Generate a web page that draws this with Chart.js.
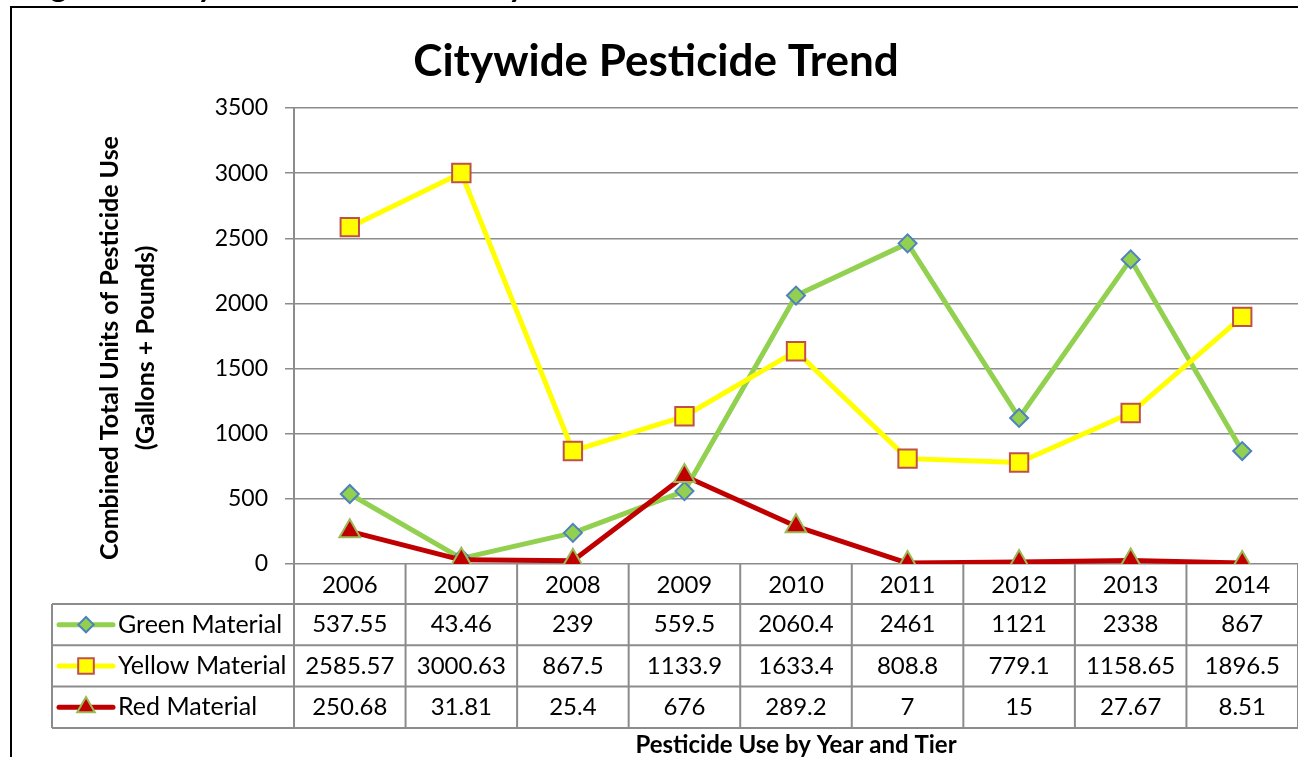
<!DOCTYPE html>
<html>
<head>
<meta charset="utf-8">
<script src="https://cdn.jsdelivr.net/npm/chart.js@4"></script>
<style>
  html, body { margin: 0; padding: 0; background: #fff; }
  #wrap { position: relative; width: 1298px; height: 757px; }
</style>
</head>
<body>
<div id="wrap"><canvas id="trend"></canvas></div>
<script>
const years = ["2006", "2007", "2008", "2009", "2010", "2011", "2012", "2013", "2014"];
const greenMaterial = [537.55, 43.46, 239, 559.5, 2060.4, 2461, 1121, 2338, 867];
const yellowMaterial = [2585.57, 3000.63, 867.5, 1133.9, 1633.4, 808.8, 779.1, 1158.65, 1896.5];
const redMaterial = [250.68, 31.81, 25.4, 676, 289.2, 7, 15, 27.67, 8.51];
const yTicks = { min: 0, max: 3500, step: 500 };

const FONT = "Lato, 'Open Sans', sans-serif";
const GRID = "#8c8c8c";

const series = [
  { label: "Green Material", data: greenMaterial, line: "#92D050", fill: "#92D050", edge: "#4F81BD", style: "rectRot", radius: 9 },
  { label: "Yellow Material", data: yellowMaterial, line: "#FFFF00", fill: "#FFFF00", edge: "#C0504D", style: "rect", radius: 13 },
  { label: "Red Material", data: redMaterial, line: "#C00000", fill: "#C00000", edge: "#9BBB59", style: "triangle", radius: 12 },
];

// draws frame, titles and the data table under the plot
const tablePlugin = {
  id: "dataTable",
  afterDraw(chart) {
    const ctx = chart.ctx;
    const xs = chart.scales.x;
    const area = chart.chartArea;
    const band = (xs.right - xs.left) / years.length;
    const top = area.bottom;
    const headBottom = top + 40;
    const rowH = 41.3;
    const bottom = headBottom + rowH * series.length;
    const tableLeft = 52;

    ctx.save();

    // outer frame and cut-off caption
    ctx.strokeStyle = "#000";
    ctx.lineWidth = 2;
    ctx.beginPath();
    ctx.moveTo(10, 7); ctx.lineTo(1298, 7);
    ctx.moveTo(11, 6); ctx.lineTo(11, 757);
    ctx.stroke();
    ctx.fillStyle = "#000";
    ctx.font = "bold 32px " + FONT;
    ctx.textAlign = "left";
    ctx.textBaseline = "alphabetic";
    ctx.fillText("Figure 6: Citywide Pesticide Use by Tier", 24, -3);

    // title
    ctx.font = "bold 44px " + FONT;
    ctx.textAlign = "center";
    ctx.fillText("Citywide Pesticide Trend", 656, 76);

    // y axis title
    ctx.save();
    ctx.translate(128, (area.top + area.bottom) / 2 + 12);
    ctx.rotate(-Math.PI / 2);
    ctx.font = "bold 25px " + FONT;
    ctx.textBaseline = "middle";
    ctx.fillText("Combined Total Units of Pesticide Use", 0, -18);
    ctx.fillText("(Gallons + Pounds)", 0, 18);
    ctx.restore();

    // x axis title
    ctx.font = "bold 24px " + FONT;
    ctx.textBaseline = "middle";
    ctx.fillText("Pesticide Use by Year and Tier", (area.left + area.right) / 2, 745);

    // table grid
    ctx.strokeStyle = GRID;
    ctx.lineWidth = 2;
    ctx.beginPath();
    for (let r = 0; r <= series.length; r++) {
      const y = headBottom + r * rowH;
      ctx.moveTo(tableLeft, y); ctx.lineTo(xs.right, y);
    }
    for (let i = 0; i <= years.length; i++) {
      const x = xs.left + i * band;
      ctx.moveTo(x, top); ctx.lineTo(x, bottom);
    }
    ctx.moveTo(tableLeft, headBottom); ctx.lineTo(tableLeft, bottom);
    ctx.stroke();

    // header years
    ctx.fillStyle = "#000";
    ctx.font = "24px " + FONT;
    ctx.textAlign = "center";
    ctx.textBaseline = "middle";
    years.forEach((yr, i) => ctx.fillText(yr, xs.getPixelForValue(i), top + 21));

    // rows
    series.forEach((s, r) => {
      const cy = headBottom + r * rowH + rowH / 2;
      // legend key
      ctx.strokeStyle = s.line;
      ctx.lineWidth = 5;
      ctx.lineCap = "round";
      ctx.beginPath();
      ctx.moveTo(59, cy); ctx.lineTo(113, cy);
      ctx.stroke();
      ctx.fillStyle = s.fill;
      ctx.strokeStyle = s.edge;
      ctx.lineWidth = 2;
      Chart.helpers.drawPoint(ctx, { pointStyle: s.style, radius: s.radius * 0.85, rotation: 0, borderWidth: 2 }, 86, cy);

      ctx.fillStyle = "#000";
      ctx.textAlign = "left";
      ctx.font = "25px " + FONT;
      ctx.fillText(s.label, 118, cy);
      ctx.textAlign = "center";
      ctx.font = "24px " + FONT;
      s.data.forEach((v, i) => ctx.fillText(String(v), xs.getPixelForValue(i), cy));
    });

    ctx.restore();
  },
};

new Chart(document.getElementById("trend"), {
  type: "line",
  data: {
    labels: years,
    datasets: series.map((s, i) => ({
      label: s.label,
      data: s.data,
      borderColor: s.line,
      borderWidth: 5,
      borderJoinStyle: "round",
      borderCapStyle: "round",
      pointStyle: s.style,
      pointRadius: s.radius,
      pointHoverRadius: s.radius,
      pointBackgroundColor: s.fill,
      pointBorderColor: s.edge,
      pointBorderWidth: 2,
      tension: 0,
      fill: false,
      order: series.length - i,
    })),
  },
  options: {
    responsive: true,
    maintainAspectRatio: false,
    animation: false,
    layout: { autoPadding: false, padding: { left: 0, right: 0, top: 108, bottom: 193 } },
    plugins: {
      legend: { display: false },
      title: { display: false },
      tooltip: { enabled: false },
    },
    scales: {
      x: {
        display: false,
        offset: true,
      },
      y: {
        min: yTicks.min,
        max: yTicks.max,
        afterFit: (scale) => { scale.width = 294; },
        ticks: {
          stepSize: yTicks.step,
          color: "#000",
          font: { family: FONT, size: 23 },
          padding: 17,
          callback: (v) => String(v),
        },
        grid: { color: GRID, lineWidth: 1.5, tickLength: 9, tickColor: GRID },
        border: { display: true, color: GRID, width: 2 },
      },
    },
  },
  plugins: [tablePlugin],
});
</script>
</body>
</html>
